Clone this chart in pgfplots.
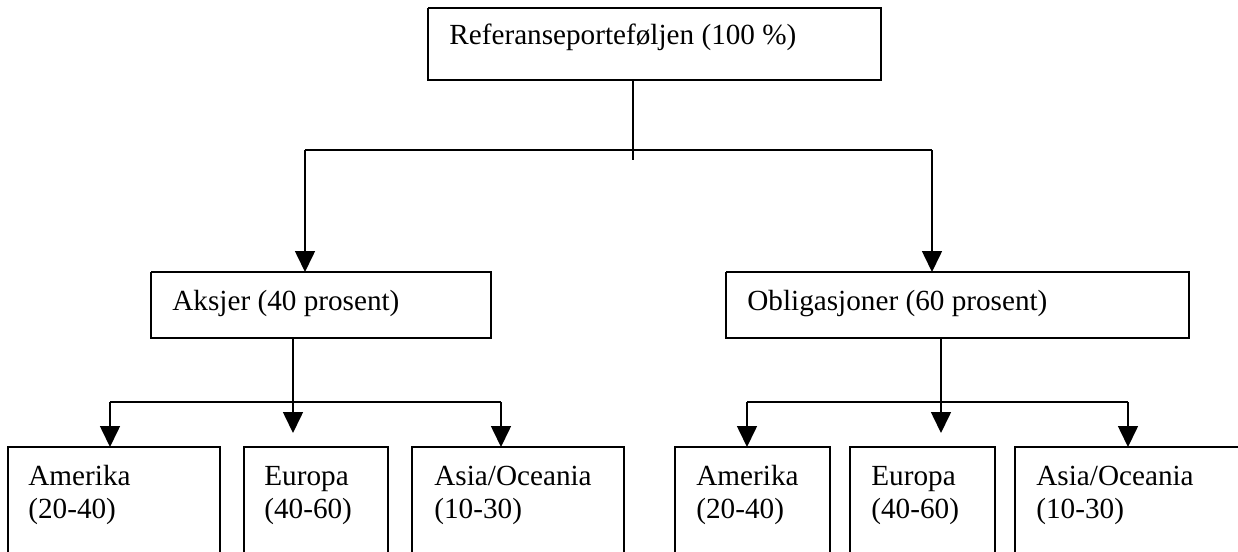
\documentclass[border=0pt]{standalone}
\usepackage{fontspec}
\setmainfont{Liberation Serif}
\usepackage{pgfplots}
\pgfplotsset{compat=1.18}
\usetikzlibrary{arrows.meta}
\begin{document}
\begin{tikzpicture}[
  lab/.style={anchor=base west, inner sep=0pt, font=\fontsize{14.6}{17}\selectfont},
  ln/.style={black, line width=0.8pt, no markers},
  arr/.style={black, line width=0.8pt, no markers, -{Triangle[width=10pt,length=10.5pt]}}
]
\begin{axis}[
  scale only axis, width=619pt, height=276pt,
  xmin=0, xmax=1238, ymin=0, ymax=552, y dir=reverse,
  hide axis, clip=true
]
\path (axis cs:0,0) rectangle (axis cs:1238,552);
% top box
\addplot[ln] coordinates {(428,8) (881,8) (881,80) (428,80) (428,8)};
\addplot[ln] coordinates {(633,80) (633,160)};
\addplot[ln] coordinates {(305,150) (932,150)};
\addplot[arr] coordinates {(305,150) (305,272)};
\addplot[arr] coordinates {(932,150) (932,272)};
% second level boxes
\addplot[ln] coordinates {(151,272) (491,272) (491,338) (151,338) (151,272)};
\addplot[ln] coordinates {(726,272) (1189,272) (1189,338) (726,338) (726,272)};
% left subtree
\addplot[arr] coordinates {(293,338) (293,433)};
\addplot[ln] coordinates {(110,402) (501,402)};
\addplot[arr] coordinates {(110,402) (110,447)};
\addplot[arr] coordinates {(501,402) (501,447)};
% right subtree
\addplot[arr] coordinates {(941,338) (941,433)};
\addplot[ln] coordinates {(747,402) (1128,402)};
\addplot[arr] coordinates {(747,402) (747,447)};
\addplot[arr] coordinates {(1128,402) (1128,447)};
% bottom boxes (cut at bottom)
\addplot[ln] coordinates {(8,560) (8,447) (220,447) (220,560)};
\addplot[ln] coordinates {(244,560) (244,447) (388,447) (388,560)};
\addplot[ln] coordinates {(412,560) (412,447) (624,447) (624,560)};
\addplot[ln] coordinates {(675,560) (675,447) (830,447) (830,560)};
\addplot[ln] coordinates {(850,560) (850,447) (995,447) (995,560)};
\addplot[ln] coordinates {(1015,560) (1015,447) (1245,447)};
% texts
\node[lab] at (axis cs:449,44) {Referanseporteføljen (100 \%)};
\node[lab] at (axis cs:172,310) {Aksjer (40 prosent)};
\node[lab] at (axis cs:747,310) {Obligasjoner (60 prosent)};
\node[lab] at (axis cs:28,485) {Amerika};
\node[lab] at (axis cs:28,518) {(20-40)};
\node[lab] at (axis cs:264,485) {Europa};
\node[lab] at (axis cs:264,518) {(40-60)};
\node[lab] at (axis cs:434,485) {Asia/Oceania};
\node[lab] at (axis cs:434,518) {(10-30)};
\node[lab] at (axis cs:696,485) {Amerika};
\node[lab] at (axis cs:696,518) {(20-40)};
\node[lab] at (axis cs:871,485) {Europa};
\node[lab] at (axis cs:871,518) {(40-60)};
\node[lab] at (axis cs:1036,485) {Asia/Oceania};
\node[lab] at (axis cs:1036,518) {(10-30)};
\end{axis}
\end{tikzpicture}
\end{document}
